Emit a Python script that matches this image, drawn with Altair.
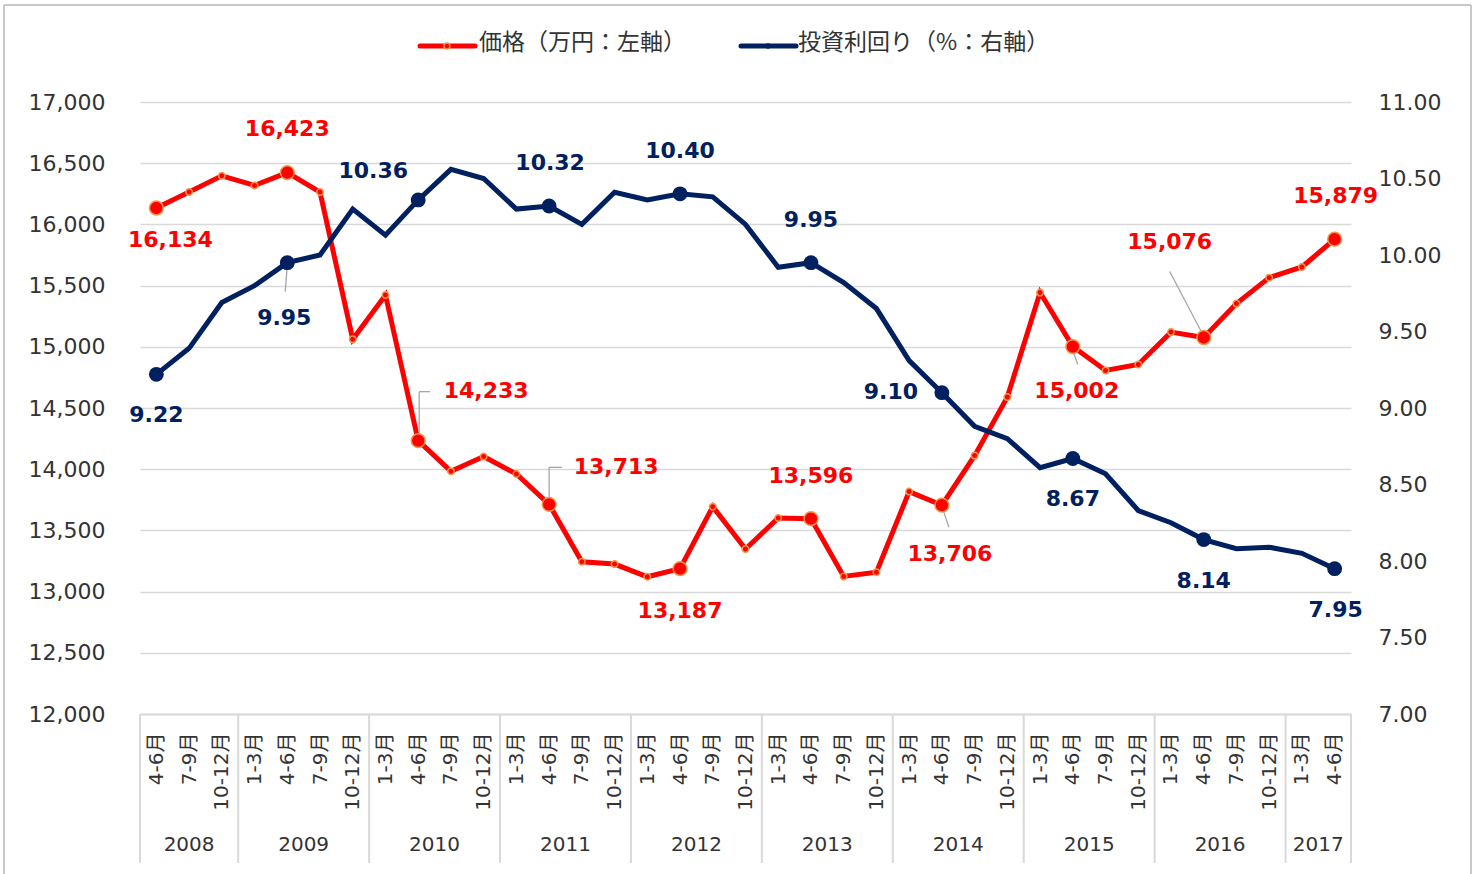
import altair as alt
import pandas as pd

# ---------------- data ----------------
quarters = ["4-6月", "7-9月", "10-12月",
            "1-3月", "4-6月", "7-9月", "10-12月",
            "1-3月", "4-6月", "7-9月", "10-12月",
            "1-3月", "4-6月", "7-9月", "10-12月",
            "1-3月", "4-6月", "7-9月", "10-12月",
            "1-3月", "4-6月", "7-9月", "10-12月",
            "1-3月", "4-6月", "7-9月", "10-12月",
            "1-3月", "4-6月", "7-9月", "10-12月",
            "1-3月", "4-6月", "7-9月", "10-12月",
            "1-3月", "4-6月"]
years = ["2008", "2009", "2010", "2011", "2012", "2013", "2014", "2015", "2016", "2017"]
year_counts = [3, 4, 4, 4, 4, 4, 4, 4, 4, 2]

price = [16134, 16264, 16397, 16318, 16423, 16264, 15061, 15423, 14233, 13983,
         14103, 13961, 13713, 13244, 13225, 13121, 13187, 13694, 13348, 13601,
         13596, 13124, 13159, 13817, 13706, 14111, 14589, 15443, 15002, 14807,
         14856, 15120, 15076, 15353, 15565, 15652, 15879]
yield_pct = [9.22, 9.39, 9.69, 9.80, 9.95, 10.00, 10.30, 10.13, 10.36, 10.56,
             10.50, 10.30, 10.32, 10.20, 10.41, 10.36, 10.40, 10.38, 10.20, 9.92,
             9.95, 9.82, 9.65, 9.31, 9.10, 8.88, 8.80, 8.61, 8.67, 8.57,
             8.33, 8.25, 8.14, 8.08, 8.09, 8.05, 7.95]
labeled = [0, 4, 8, 12, 16, 20, 24, 28, 32, 36]

legend_labels = ["価格（万円：左軸）", "投資利回り（%：右軸）"]
price_ticks = list(range(12000, 17001, 500))
yield_ticks = [7.0, 7.5, 8.0, 8.5, 9.0, 9.5, 10.0, 10.5, 11.0]

# ---------------- style ----------------
RED = "#FF0000"
NAVY = "#002060"
ORANGE = "#F79646"
GRID = "#D9D9D9"
TXT = "#333333"
LEAD = "#A6A6A6"
FONT = "DejaVu Sans, Noto Sans CJK JP"
FONT_JP = "Noto Sans CJK JP, DejaVu Sans"
W, H = 1211, 612

n = len(quarters)
df = pd.DataFrame({"i": list(range(n)), "quarter": quarters,
                   "price": price, "yld": yield_pct})
df_lab = df[df["i"].isin(labeled)]

starts = []
s = 0
for c in year_counts:
    starts.append(s)
    s += c
ydf = pd.DataFrame({"year": years,
                    "center": [st + (c - 1) / 2 for st, c in zip(starts, year_counts)]})
bdf = pd.DataFrame({"b": [-0.5] + [st + c - 0.5 for st, c in zip(starts, year_counts)]})
one = pd.DataFrame({"k": [0]})

xscale = alt.Scale(domain=[-0.5, n - 0.5], nice=False, zero=False)
label_expr = "[" + ",".join("'%s'" % q for q in quarters) + "][datum.value]"
X_AXIS = alt.Axis(values=list(range(n)), labelExpr=label_expr, labelAngle=270,
                  labelAlign="right", labelBaseline="middle", labelPadding=18,
                  labelFontSize=20, labelFont=FONT, labelColor=TXT,
                  ticks=False, grid=False, domainColor=GRID, domainWidth=2,
                  labelOverlap=False, labelFlush=False, title=None)


def xenc(field):
    return alt.X(field, scale=xscale, axis=X_AXIS, title=None)


pscale = alt.Scale(domain=[12000, 17000], nice=False, zero=False)
yscale_r = alt.Scale(domain=[7, 11], nice=False, zero=False)
P_AXIS = alt.Axis(orient="left", values=price_ticks, format=",.0f",
                  labelFontSize=22, labelFont=FONT, labelColor=TXT,
                  labelPadding=35, ticks=False, domain=False,
                  grid=True, gridColor=GRID, gridWidth=1.5,
                  labelOverlap=False, title=None)
R_AXIS = alt.Axis(orient="right", values=yield_ticks, format=".2f",
                  labelFontSize=22, labelFont=FONT, labelColor=TXT,
                  labelPadding=27, ticks=False, domain=False, grid=False,
                  labelOverlap=False, title=None)
y_price = alt.Y("price:Q", scale=pscale, axis=P_AXIS, title=None)
y_yld = alt.Y("yld:Q", scale=yscale_r, axis=R_AXIS, title=None)
x_i = xenc("i:Q")

# ---------------- decorations ----------------
bg = alt.Chart(one).mark_rect(fill="white", opacity=0).encode(
    x=alt.value(-140), x2=alt.value(1335), y=alt.value(-102), y2=alt.value(772))
border_top = alt.Chart(one).mark_rule(color="#C8C8C8", strokeWidth=2).encode(
    x=alt.value(-136), x2=alt.value(1331), y=alt.value(-97))
border_left = alt.Chart(one).mark_rule(color="#C8C8C8", strokeWidth=2).encode(
    x=alt.value(-136), y=alt.value(-97), y2=alt.value(772))
border_right = alt.Chart(one).mark_rule(color="#C8C8C8", strokeWidth=2).encode(
    x=alt.value(1331), y=alt.value(-97), y2=alt.value(772))

leg_r_line = alt.Chart(one).mark_rule(color=RED, strokeWidth=5, strokeCap="round").encode(
    x=alt.value(280), x2=alt.value(335), y=alt.value(-56))
leg_r_pt = alt.Chart(one).mark_circle(size=36, color=RED, stroke=ORANGE, strokeWidth=1.5,
                                      opacity=1).encode(x=alt.value(307), y=alt.value(-56))
leg_r_txt = alt.Chart(one).mark_text(align="left", baseline="middle", fontSize=23, font=FONT_JP,
                                     color=TXT).encode(
    x=alt.value(339), y=alt.value(-59), text=alt.value(legend_labels[0]))
leg_n_line = alt.Chart(one).mark_rule(color=NAVY, strokeWidth=5, strokeCap="round").encode(
    x=alt.value(601), x2=alt.value(656), y=alt.value(-56))
leg_n_pt = alt.Chart(one).mark_circle(size=30, color=NAVY, opacity=1).encode(
    x=alt.value(628), y=alt.value(-56))
leg_n_txt = alt.Chart(one).mark_text(align="left", baseline="middle", fontSize=23, font=FONT_JP,
                                     color=TXT).encode(
    x=alt.value(658), y=alt.value(-59), text=alt.value(legend_labels[1]))

seps = alt.Chart(bdf).mark_rule(color=GRID, strokeWidth=2).encode(
    x=xenc("b:Q"), y=alt.value(H), y2=alt.value(761))
year_txt = alt.Chart(ydf).mark_text(fontSize=20, font=FONT, color=TXT, baseline="middle").encode(
    x=xenc("center:Q"), y=alt.value(743), text="year:N")


def label_layer(idx, field, yenc, fmt, color, dx, dy):
    return alt.Chart(df).transform_filter(alt.datum.i == idx).mark_text(
        dx=dx, dy=dy, fontSize=22, fontWeight="bold", font=FONT, color=color,
        align="center", baseline="middle").encode(
        x=x_i, y=yenc, text=alt.Text(field + ":Q", format=fmt))


def leader(idx, field, yenc, ox1, oy1, ox2, oy2):
    return alt.Chart(df).transform_filter(alt.datum.i == idx).mark_rule(
        color=LEAD, strokeWidth=1.3, xOffset=ox1, yOffset=oy1, x2Offset=ox2, y2Offset=oy2).encode(
        x=x_i, x2=alt.X2("i"), y=yenc, y2=alt.Y2(field))


# ---------------- price (left axis) ----------------
p_line = alt.Chart(df).mark_line(color=RED, strokeWidth=5).encode(x=x_i, y=y_price)
p_pts = alt.Chart(df).mark_circle(size=42, color=RED, stroke=ORANGE, strokeWidth=1.5,
                                  opacity=1).encode(x=x_i, y=y_price)
p_big = alt.Chart(df_lab).mark_circle(size=190, color=RED, stroke=ORANGE, strokeWidth=1.5,
                                      opacity=1).encode(x=x_i, y=y_price)
red_off = {0: (14, 32), 4: (0, -44), 8: (68, -50), 12: (67, -37), 16: (0, 42),
           20: (0, -43), 24: (8, 49), 28: (4, 44), 32: (-34, -95), 36: (1, -43)}
p_labels = [label_layer(k, "price", y_price, ",", RED, v[0], v[1]) for k, v in red_off.items()]
p_leaders = [
    leader(8, "price", y_price, 1, -7, 1, -49),
    leader(8, "price", y_price, 1, -49, 12, -49),
    leader(12, "price", y_price, 0, -6, 0, -37),
    leader(12, "price", y_price, 0, -37, 13, -37),
    leader(24, "price", y_price, 1, 4, 7, 22),
    leader(28, "price", y_price, 0, 4, 5, 18),
    leader(32, "price", y_price, -34, -66, -3, -7),
]
price_group = alt.layer(p_line, *p_leaders, p_pts, p_big, *p_labels)

# ---------------- yield (right axis) ----------------
y_line = alt.Chart(df).mark_line(color=NAVY, strokeWidth=5).encode(x=x_i, y=y_yld)
y_big = alt.Chart(df_lab).mark_circle(size=220, color=NAVY, opacity=1).encode(x=x_i, y=y_yld)
navy_off = {0: (0, 41), 4: (-3, 55), 8: (-45, -29), 12: (1, -43), 16: (0, -43),
            20: (0, -43), 24: (-51, -1), 28: (0, 41), 32: (0, 41), 36: (1, 41)}
y_labels = [label_layer(k, "yld", y_yld, ".2f", NAVY, v[0], v[1]) for k, v in navy_off.items()]
y_leaders = [leader(4, "yld", y_yld, 0, 2, -2, 29)]
yield_group = alt.layer(y_line, *y_leaders, y_big, *y_labels)

chart = alt.layer(
    bg, border_top, border_left, border_right,
    leg_r_line, leg_r_pt, leg_r_txt, leg_n_line, leg_n_pt, leg_n_txt,
    seps, year_txt, price_group, yield_group
).resolve_scale(y="independent").properties(
    width=W, height=H, padding=0
).configure_view(strokeWidth=0)

chart.save("out.html", embed_options={"renderer": "svg", "actions": False})
